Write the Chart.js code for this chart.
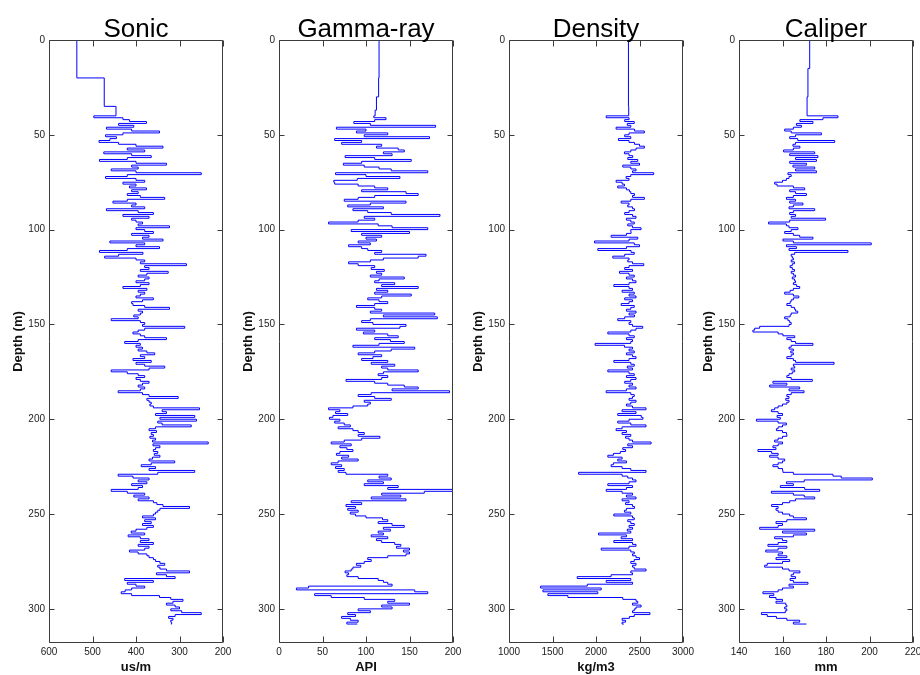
<!DOCTYPE html>
<html>
<head>
<meta charset="utf-8">
<script src="https://cdn.jsdelivr.net/npm/chart.js@4"></script>
<style>
body { margin: 0; background: #fff; }
#wrap { position: relative; width: 920px; height: 675px; overflow: hidden; }
#wrap canvas { position: absolute; top: 0; }
</style>
</head>
<body>
<div id="wrap"></div>
<script>
// -------------------- DATA --------------------
// logged interval is sampled every metre from depthStart down
const depthStart = 40;

// shallow part (casing) is only a few steps
const sonicTopDepth = [0, 20, 35];
const sonicTop = [536, 473, 446];
const gammaTopDepth = [0, 20, 30, 37];
const gammaTop = [115, 114.5, 112, 110.5];
const densityTopDepth = [0, 35];
const densityTop = [2373, 2376];
const caliperTopDepth = [0, 15, 30];
const caliperTop = [172.5, 171.7, 171.3];

// us/m, 40..308 m
const sonic = [
  497,430,415,376,440,405,468,410,346,430,
  470,445,460,485,440,400,338,420,380,474,
  410,365,420,484,400,330,410,395,457,400,
  250,420,470,400,380,430,400,415,376,410,
  395,420,390,334,420,453,400,410,380,468,
  395,360,430,370,410,400,385,395,323,400,
  380,360,410,370,385,338,460,380,400,346,
  420,484,384,440,472,400,380,390,284,380,
  370,390,326,375,395,370,380,400,370,390,
  430,375,395,380,390,400,360,385,410,407,
  380,323,395,385,390,405,395,457,390,380,
  385,288,380,395,407,390,380,330,395,426,
  390,400,385,395,375,357,390,380,407,365,
  400,380,334,370,457,420,395,380,400,390,
  370,385,395,380,390,441,385,370,303,375,
  370,365,368,360,254,340,330,355,265,345,
  261,350,340,273,355,370,353,365,360,368,
  355,362,234,361,345,355,360,350,358,345,
  362,370,311,365,388,355,370,265,350,441,
  407,370,395,375,410,385,395,457,420,380,
  405,370,395,360,352,338,277,345,350,355,
  360,385,355,380,365,385,360,375,400,411,
  380,418,390,370,390,360,395,370,380,415,
  395,375,370,360,355,345,334,350,345,330,
  277,353,330,310,426,360,420,400,380,410,
  425,434,410,346,320,292,315,330,310,300,
  320,295,250,310,325,315,320,318,320
];

// API, 40..308 m
const gamma = [
  109,123,110,86,105,180,66,100,89,125,
  98,173,64,95,72,118,112,137,144,120,
  130,76,110,152,95,74,98,115,129,171,
  65,100,139,90,63,64,91,110,125,95,
  146,160,110,91,75,146,105,79,120,85,
  102,129,185,98,110,91,57,114,130,171,
  83,150,95,118,100,112,91,105,80,95,
  102,118,110,169,160,120,105,80,91,110,
  106,121,112,118,105,144,115,110,133,118,
  160,112,125,110,152,118,102,115,125,110,
  89,110,118,105,179,120,182,105,95,108,
  146,139,89,110,97,125,137,110,128,144,
  115,85,156,129,110,91,118,108,95,125,
  106,133,118,125,160,120,114,125,118,77,
  110,125,144,160,130,196,106,91,110,129,
  98,105,102,85,57,70,65,79,62,58,
  70,64,75,82,68,85,91,98,91,116,
  95,75,60,83,70,78,85,70,66,80,
  72,91,68,60,72,65,75,68,77,125,
  115,129,102,120,98,137,125,200,167,118,
  140,106,146,83,95,77,88,79,91,82,
  88,100,119,125,114,130,144,120,128,114,
  120,106,125,112,118,133,140,135,150,143,
  150,146,125,102,106,98,89,94,85,83,
  76,80,78,91,114,120,125,130,34,20,
  156,171,41,60,98,133,125,150,118,130,
  91,105,79,88,72,82,91,78,90
];

// kg/m3, 40..308 m
const density = [
  2117,2380,2330,2440,2360,2400,2231,2442,2556,2380,
  2330,2400,2258,2380,2442,2500,2556,2460,2400,2327,
  2380,2422,2365,2480,2400,2500,2308,2400,2460,2420,
  2663,2400,2346,2380,2231,2300,2327,2250,2350,2384,
  2400,2442,2420,2556,2400,2289,2380,2365,2420,2442,
  2380,2330,2420,2460,2350,2400,2440,2365,2420,2518,
  2400,2403,2350,2174,2480,2380,1983,2440,2500,2350,
  2021,2403,2440,2330,2193,2380,2365,2420,2549,2380,
  2330,2420,2270,2380,2440,2350,2420,2460,2380,2205,
  2380,2420,2300,2440,2380,2460,2330,2420,2380,2290,
  2440,2400,2350,2460,2380,2442,2330,2250,2400,2380,
  2420,2537,2460,2400,2136,2380,2440,2350,2420,2400,
  1990,2327,2420,2380,2440,2350,2420,2460,2380,2205,
  2400,2440,2360,2420,2136,2380,2440,2350,2460,2400,
  2330,2420,2380,2460,2350,2117,2400,2440,2420,2380,
  2460,2400,2350,2420,2575,2300,2460,2250,2520,2540,
  2380,2250,2400,2575,2300,2231,2350,2300,2400,2340,
  2380,2420,2633,2365,2420,2308,2340,2280,2200,2136,
  2300,2250,2350,2200,2174,2300,2400,2575,1800,2300,
  2365,2420,2460,2380,2136,2420,2350,2117,2300,2420,
  2350,2460,2300,2380,2340,2420,2442,2350,2327,2400,
  2205,2420,2440,2365,2400,2440,2380,2420,2360,2400,
  2029,2350,2289,2420,2205,2420,2460,2380,2060,2400,
  2440,2420,2460,2500,2440,2400,2460,2420,2440,2575,
  2400,2420,2174,1784,2400,2117,2420,1900,1363,2060,
  1390,2021,1447,1677,2308,2460,2480,2420,2518,2460,
  2440,2420,2620,2440,2384,2300,2340,2300,2320
];

// mm, 40..308 m
const caliper = [
  185.5,178.6,168,174,166.4,168.7,165,161,164,177.9,
  166,163.3,167,184,166,164.8,168,165,160.5,174.8,
  163.3,176.3,166,175.6,163.3,171,164.8,174.8,166,175.6,
  162.5,164,163,161.8,160,156.4,157.5,165,170.2,163.3,
  166,171,165,161.8,166,163.3,169.4,165,163,174.8,
  165,163.3,166,164,179.8,163.3,153.6,161.8,163,167.1,
  164,161,165,167.9,174,160.2,165,200.8,161.8,166.4,
  163,190.1,165.6,164,164.5,165,164,165.5,164.5,163.5,
  164.5,165.5,164,165,166,164.5,165.5,166,165,166.5,
  167.9,165,163.5,161,165,167.5,165,164,163.5,162,
  164,165.5,166,167,164,163.5,161,162.5,163.3,164,
  163,149.5,147.2,146.4,158,160.2,165.6,162,164,166,
  174,164,163,165,163.8,165,164,162,165,166,
  183.7,165,165.6,164,165.6,164.5,163,162,164,173.7,
  155.6,162,154.1,167.9,163,169.9,164,162,163,161.5,
  163,162,160,158,156.4,154.9,158,160,157.5,159,
  148,158,161.8,160,158,157.2,160,161.8,162,160,
  158,156.4,160,158,155.6,157,148.7,155,158,154.1,
  158,161,160,158,155.6,158,160,160.2,165,183.2,
  187,201.3,170,161.8,165,159,170.2,177.1,154.9,165,
  170,174.8,166,163.3,160,155,158,157,158,160,
  163.3,165,171,162,157,160,158,149.5,174.8,160,
  171,165,156.4,160,162,158,153.3,162,158,152.3,
  160,158,162,157,163.3,160,153,151.8,160,163,
  168,165,164,166,163.5,165,171.7,163,165,160,
  158,151,156,154,157,160,157,161.5,162,161,
  162,161.3,150.3,153,157.2,162,167.9,165,171
];

const depthTicks = { min: 0, max: 318, step: 50 };

const panels = [
  { title: 'Sonic', unit: 'us/m', topDepth: sonicTopDepth, top: sonicTop, values: sonic, min: 200, max: 600, step: 100, reverse: true },
  { title: 'Gamma-ray', unit: 'API', topDepth: gammaTopDepth, top: gammaTop, values: gamma, min: 0, max: 200, step: 50, reverse: false },
  { title: 'Density', unit: 'kg/m3', topDepth: densityTopDepth, top: densityTop, values: density, min: 1000, max: 3000, step: 500, reverse: false },
  { title: 'Caliper', unit: 'mm', topDepth: caliperTopDepth, top: caliperTop, values: caliper, min: 140, max: 220, step: 20, reverse: false }
];

// -------------------- Fonts --------------------
// the original uses a condensed helvetica; use a narrow face when there is one
function hasFont(name) {
  const c = document.createElement('canvas').getContext('2d');
  c.font = '40px monospace';
  const base = c.measureText('Depth (m) 0123456789').width;
  c.font = `40px "${name}", monospace`;
  return c.measureText('Depth (m) 0123456789').width !== base;
}
const narrow = hasFont('Liberation Sans Narrow');
const tickFont = narrow
  ? { family: '"Liberation Sans Narrow", sans-serif', size: 11 }
  : { family: '"Liberation Sans", Arial, sans-serif', size: 10 };
const labelFont = narrow
  ? { family: '"Liberation Sans Narrow", sans-serif', size: 15, weight: 'bold', lineHeight: 1 }
  : { family: '"Liberation Sans", Arial, sans-serif', size: 13, weight: 'bold', lineHeight: 1 };

// -------------------- Plugins --------------------
// matlab style box with inward ticks on all four sides
const frame = {
  id: 'frame',
  afterDatasetsDraw(chart) {
    const { ctx, chartArea: a, scales: { x, y } } = chart;
    const L = Math.round(a.left) + 0.5, R = Math.round(a.right) - 0.5;
    const T = Math.round(a.top) + 0.5, B = Math.round(a.bottom) - 0.5;
    ctx.save();
    ctx.strokeStyle = '#3c3c3c';
    ctx.lineWidth = 1;
    ctx.beginPath();
    ctx.rect(L, T, R - L, B - T);
    x.ticks.forEach(t => {
      const px = Math.round(x.getPixelForValue(t.value)) + 0.5;
      ctx.moveTo(px, B); ctx.lineTo(px, B - 6);
      ctx.moveTo(px, T); ctx.lineTo(px, T + 6);
    });
    y.ticks.forEach(t => {
      const py = Math.round(y.getPixelForValue(t.value)) + 0.5;
      ctx.moveTo(L, py); ctx.lineTo(L + 5, py);
      ctx.moveTo(R, py); ctx.lineTo(R - 5, py);
    });
    ctx.stroke();
    ctx.restore();
  }
};

const panelTitle = {
  id: 'panelTitle',
  afterDraw(chart, args, opts) {
    const { ctx, chartArea: a } = chart;
    ctx.save();
    ctx.fillStyle = '#000';
    ctx.font = '26px "Liberation Sans", Arial, sans-serif';
    ctx.textAlign = 'center';
    ctx.textBaseline = 'alphabetic';
    ctx.fillText(opts.text, (a.left + a.right) / 2, a.top - 3);
    ctx.restore();
  }
};

// -------------------- Charts --------------------
const wrap = document.getElementById('wrap');

panels.forEach((p, i) => {
  const canvas = document.createElement('canvas');
  canvas.width = 240;
  canvas.height = 675;
  canvas.style.left = (i * 230) + 'px';
  wrap.appendChild(canvas);

  const points = p.topDepth.map((d, k) => ({ x: p.top[k], y: d }))
    .concat(p.values.map((v, k) => ({ x: v, y: depthStart + k })));

  new Chart(canvas, {
    type: 'scatter',
    data: {
      datasets: [{
        data: points,
        showLine: true,
        stepped: 'after',
        borderColor: '#0000ff',
        borderWidth: 1,
        pointRadius: 0,
        fill: false
      }]
    },
    options: {
      responsive: false,
      animation: false,
      devicePixelRatio: 1,
      layout: { padding: { top: 40, right: 17, left: 0, bottom: 0 } },
      plugins: {
        legend: { display: false },
        tooltip: { enabled: false },
        panelTitle: { text: p.title }
      },
      scales: {
        x: {
          type: 'linear',
          position: 'bottom',
          min: p.min, max: p.max, reverse: p.reverse,
          grid: { display: false, drawTicks: false },
          border: { display: false },
          ticks: { stepSize: p.step, autoSkip: false, maxRotation: 0, padding: 3, font: tickFont, color: '#222', callback: v => String(v) },
          title: { display: true, text: p.unit, font: labelFont, color: '#111', padding: { top: 0, bottom: 1 } },
          afterFit(s) { s.height = 32; }
        },
        y: {
          type: 'linear',
          position: 'left',
          min: depthTicks.min, max: depthTicks.max, reverse: true,
          grid: { display: false, drawTicks: false },
          border: { display: false },
          ticks: { stepSize: depthTicks.step, includeBounds: false, padding: 4, font: tickFont, color: '#222' },
          title: { display: true, text: 'Depth (m)', font: labelFont, color: '#111', padding: { top: 12, bottom: 0 } },
          afterFit(s) { s.width = 49; }
        }
      }
    },
    plugins: [frame, panelTitle]
  });
});
</script>
</body>
</html>
